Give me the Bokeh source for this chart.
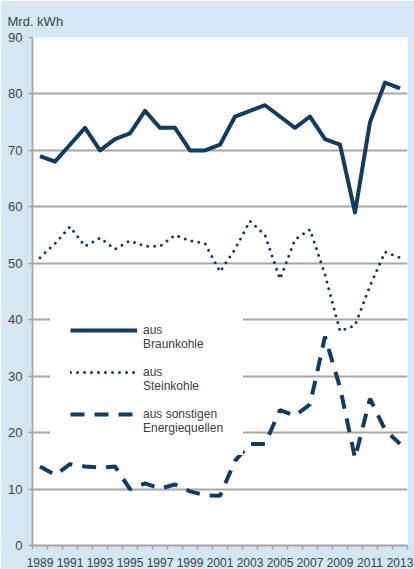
from bokeh.plotting import figure
from bokeh.models import Legend, LegendItem, FixedTicker
from bokeh.embed import file_html
from bokeh.resources import INLINE

years = list(range(1989, 2014))
braunkohle = [69, 68, 71, 74, 70, 72, 73, 77, 74, 74, 70, 70, 71, 76, 77, 78, 76, 74, 76, 72, 71, 59, 75, 82, 81]
steinkohle = [51, 53.5, 56.5, 53, 54.5, 52.5, 54, 53, 53, 55, 54, 53.5, 48.5, 52.5, 57.5, 55, 47.2, 54.2, 56, 48, 38, 39, 46, 52, 51]
sonstige = [14, 12.5, 14.4, 14, 13.8, 14, 10, 11, 10.1, 10.8, 9.6, 8.9, 8.8, 15, 18, 18, 24, 23, 25, 37, 28, 15.5, 26, 20.5, 18]
y_ticks = [0, 10, 20, 30, 40, 50, 60, 70, 80, 90]
x_label_years = [y for y in years if y % 2 == 1]
labels = [("aus", "Braunkohle"), ("aus", "Steinkohle"), ("aus sonstigen", "Energiequellen")]
unit = "Mrd. kWh"

NAVY = "#123b63"
GRID = "#a6a6a6"
BG = "#d5e7f5"
TXT = "#404040"
FONT = "Liberation Sans"

p = figure(width=414, height=569, x_range=(1988.5, 2013.5), y_range=(0, 90),
           output_backend="svg", toolbar_location=None,
           min_border_left=32, min_border_right=7, min_border_top=37, min_border_bottom=22)
p.border_fill_color = BG
p.background_fill_color = "white"
p.outline_line_color = None

p.title.text = unit
p.title.align = "left"
p.title.offset = -25
p.title.standoff = 18
p.title.text_font = FONT
p.title.text_font_size = "13px"
p.title.text_font_style = "normal"
p.title.text_color = TXT

p.xgrid.grid_line_color = None
p.ygrid.grid_line_color = GRID
p.ygrid.grid_line_width = 1.8
p.ygrid.ticker = FixedTicker(ticks=y_ticks)

p.yaxis.ticker = FixedTicker(ticks=y_ticks)
p.yaxis.axis_line_color = GRID
p.yaxis.axis_line_width = 1.8
p.yaxis.major_tick_line_color = GRID
p.yaxis.major_tick_line_width = 1.5
p.yaxis.major_tick_out = 4
p.yaxis.major_tick_in = 0
p.yaxis.minor_tick_line_color = None
p.yaxis.major_label_text_font = FONT
p.yaxis.major_label_text_font_size = "13px"
p.yaxis.major_label_text_color = TXT
p.yaxis.major_label_standoff = 6

p.xaxis.ticker = FixedTicker(ticks=x_label_years, minor_ticks=[y - 0.5 for y in years] + [years[-1] + 0.5])
p.xaxis.axis_line_color = GRID
p.xaxis.axis_line_width = 1.8
p.xaxis.major_tick_line_color = None
p.xaxis.major_tick_out = 0
p.xaxis.major_tick_in = 0
p.xaxis.minor_tick_line_color = GRID
p.xaxis.minor_tick_line_width = 1.5
p.xaxis.minor_tick_out = 4
p.xaxis.minor_tick_in = 0
p.xaxis.major_label_text_font = FONT
p.xaxis.major_label_text_font_size = "12px"
p.xaxis.major_label_text_color = TXT
p.xaxis.major_label_standoff = 8

r1 = p.line(years, braunkohle, line_color=NAVY, line_width=4, line_join="round")
r2 = p.line(years, steinkohle, line_color=NAVY, line_width=3, line_dash="0 7", line_cap="round")
r3 = p.line(years, sonstige, line_color=NAVY, line_width=4, line_dash="14 10", line_cap="butt")

items = [LegendItem(label="\u00a0\n" + a + "\n" + b, renderers=[r])
         for (a, b), r in zip(labels, [r1, r2, r3])]
legend = Legend(items=items,
                location=(18, 90), background_fill_color="white", background_fill_alpha=1,
                border_line_color="white", border_line_width=1,
                glyph_width=67, glyph_height=14, label_standoff=6,
                padding=19, spacing=0, margin=0,
                label_text_font=FONT, label_text_font_size="12px", label_text_color=TXT,
                label_text_line_height=1.2)
p.add_layout(legend)

open("out.html", "w").write(file_html(p, INLINE))
